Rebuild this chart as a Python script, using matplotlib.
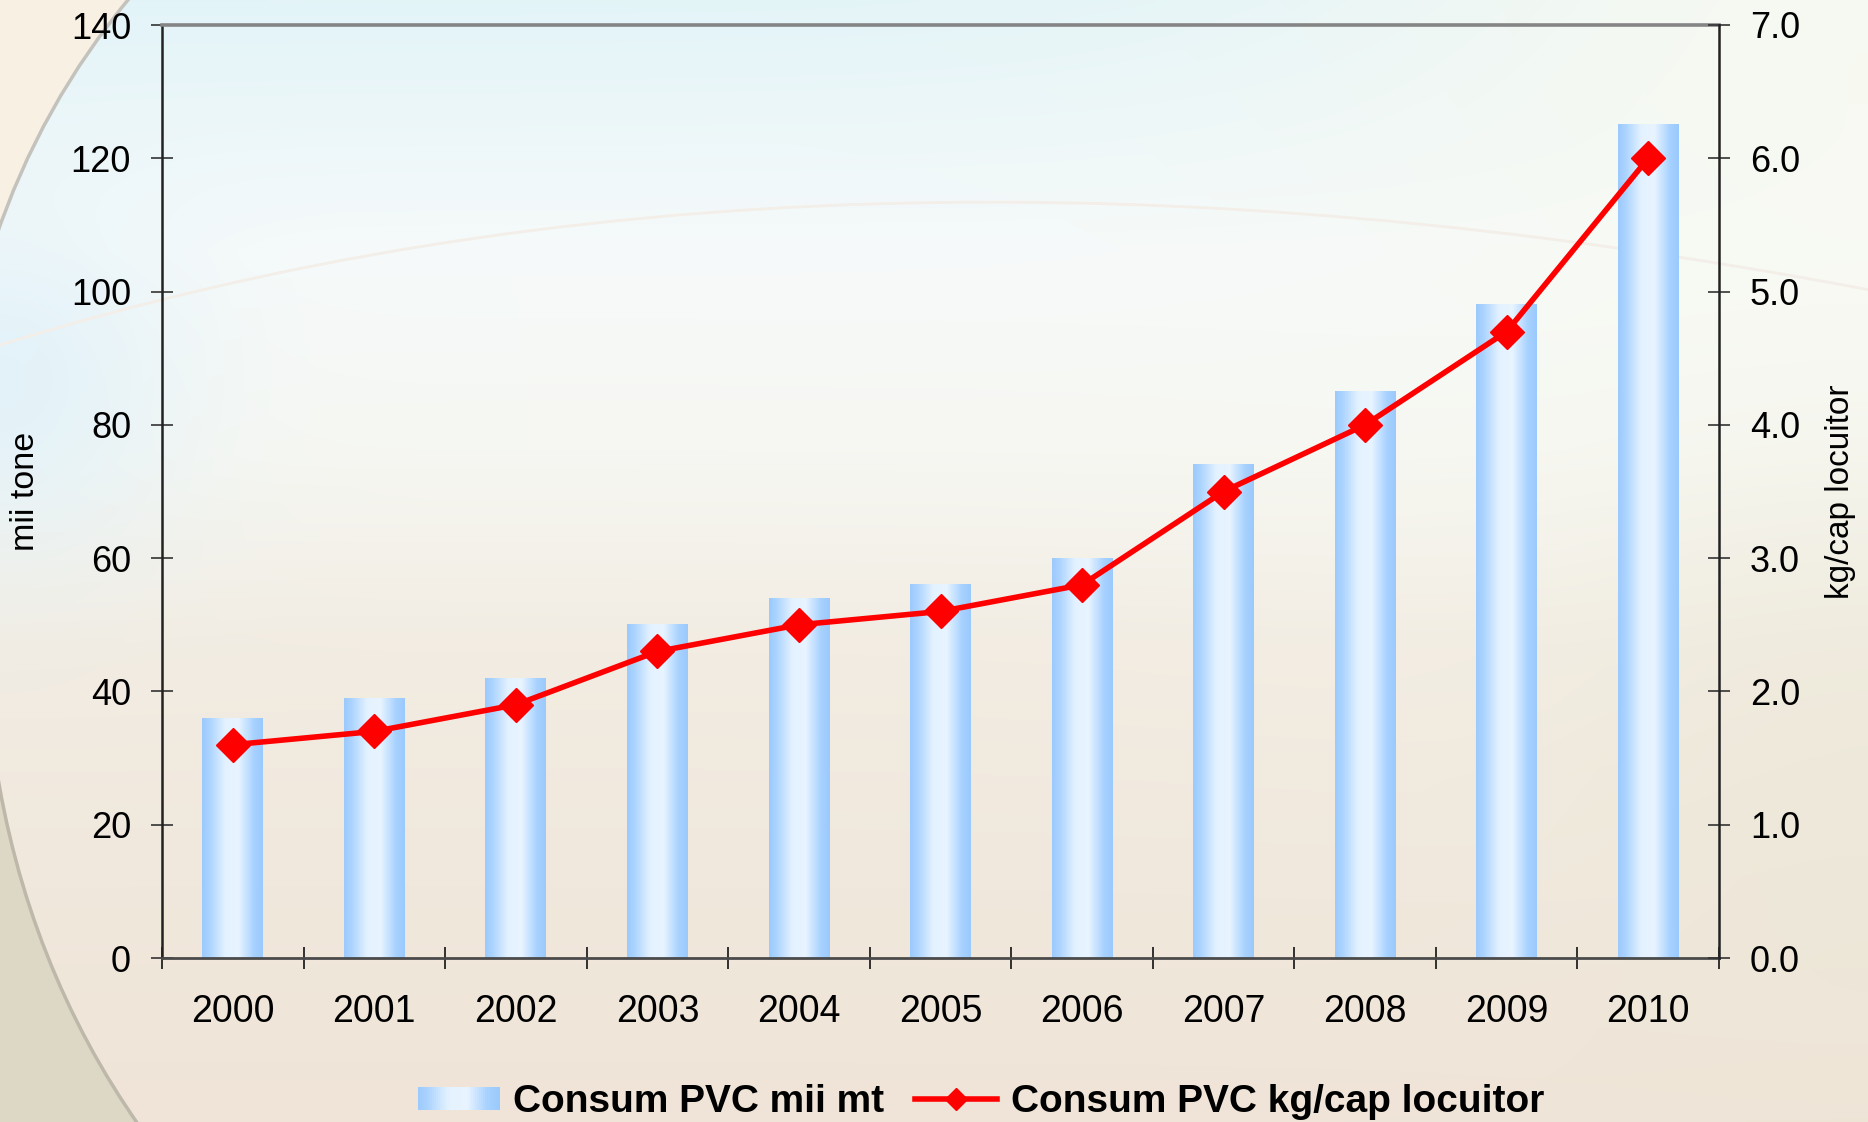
import numpy as np
import matplotlib
matplotlib.use("Agg")
import matplotlib.pyplot as plt
from matplotlib.colors import LinearSegmentedColormap, to_rgb
from matplotlib.patches import Rectangle, PathPatch, Patch
from matplotlib.path import Path
from matplotlib.lines import Line2D
from matplotlib.legend_handler import HandlerBase

plt.rcParams['font.family'] = ['Liberation Sans', 'DejaVu Sans']

# ---------------- data ----------------
years = ['2000', '2001', '2002', '2003', '2004', '2005', '2006', '2007', '2008', '2009', '2010']
consum_mii_mt = [36, 39, 42, 50, 54, 56, 60, 74, 85, 98, 125]
consum_kg_cap = [1.6, 1.7, 1.9, 2.3, 2.5, 2.6, 2.8, 3.5, 4.0, 4.7, 6.0]
left_ticks = [0, 20, 40, 60, 80, 100, 120, 140]
right_ticks = [0.0, 1.0, 2.0, 3.0, 4.0, 5.0, 6.0, 7.0]
label_bars = 'Consum PVC mii mt'
label_line = 'Consum PVC kg/cap locuitor'
ylabel_left = 'mii tone'
ylabel_right = 'kg/cap locuitor'

W, H = 1868, 1122
fig = plt.figure(figsize=(W / 100, H / 100), dpi=100)
fig.patch.set_facecolor('#f3eee3')

# ---------------- background ----------------
bg = fig.add_axes([0, 0, 1, 1], zorder=-10)
yy, xx = np.mgrid[0:H:4, 0:W:4].astype(float)
knots = [0, 250, 450, 650, 1122]
cols = np.array([to_rgb(c) for c in ['#e3f4f8', '#f6fafa', '#f6f7f2', '#f2ece2', '#efe4d7']])
img = np.zeros(yy.shape + (3,))
for k in range(3):
    img[..., k] = np.interp(yy, knots, cols[:, k])
def blend(img, w, color):
    c = np.array(to_rgb(color))
    return img * (1 - w[..., None]) + c * w[..., None]
img = blend(img, np.exp(-((xx - W) / 550) ** 2 - (yy / 500) ** 2) * 0.9, '#f9faf1')
img = blend(img, np.exp(-(xx / 180) ** 2 - ((yy - 380) / 180) ** 2) * 0.8, '#dff1fa')
img = blend(img, np.exp(-((xx - W) / 300) ** 2 - ((yy - 800) / 300) ** 2) * 0.6, '#ebe7d6')
bg.imshow(img, extent=[0, W, H, 0], aspect='auto', interpolation='bilinear')
# decorative curves
top_arc = Path([(0, -5), (132, -5), (40, 105), (-5, 240), (0, -5)],
               [Path.MOVETO, Path.LINETO, Path.CURVE3, Path.CURVE3, Path.CLOSEPOLY])
bg.add_patch(PathPatch(top_arc, facecolor='#f8f0e3', edgecolor='none'))
bg.add_patch(PathPatch(Path([(132, -5), (40, 105), (-5, 240)],
                            [Path.MOVETO, Path.CURVE3, Path.CURVE3]),
                       facecolor='none', edgecolor='#c4c2bc', lw=2.5))
bot_arc = Path([(-5, 760), (26, 965), (140, 1127), (-5, 1127), (-5, 760)],
               [Path.MOVETO, Path.CURVE3, Path.CURVE3, Path.LINETO, Path.CLOSEPOLY])
bg.add_patch(PathPatch(bot_arc, facecolor='#dcd8c5', edgecolor='none'))
bg.add_patch(PathPatch(Path([(-5, 760), (26, 965), (140, 1127)],
                            [Path.MOVETO, Path.CURVE3, Path.CURVE3]),
                       facecolor='none', edgecolor='#bdb8aa', lw=2.5))
bg.add_patch(PathPatch(Path([(0, 345), (820, 90), (1870, 290)],
                            [Path.MOVETO, Path.CURVE3, Path.CURVE3]),
                       facecolor='none', edgecolor='#f3eee8', lw=2.0))
bg.set_xlim(0, W)
bg.set_ylim(H, 0)
bg.axis('off')

# ---------------- main axes ----------------
ax = fig.add_axes([162 / W, 1 - 958 / H, (1719 - 162) / W, (958 - 25) / H])
ax.patch.set_alpha(0)
x = np.arange(len(years))

bar_cmap = LinearSegmentedColormap.from_list(
    'bar', [(0, '#9ccafd'), (0.12, '#aad3ff'), (0.38, '#e4f2ff'),
            (0.6, '#e8f4ff'), (0.85, '#a8d2ff'), (1, '#9ac9fd')])
bars = ax.bar(x, consum_mii_mt, width=0.43, color='none', edgecolor='none', zorder=2)
grad = np.linspace(0, 1, 256).reshape(1, -1)
for b in bars:
    ax.imshow(grad, cmap=bar_cmap, aspect='auto', interpolation='bilinear', zorder=2,
              extent=[b.get_x(), b.get_x() + b.get_width(), 0, b.get_height()])

ax.set_xlim(-0.5, len(years) - 0.5)
ax.set_ylim(left_ticks[0], left_ticks[-1])
ax.set_yticks(left_ticks)
ax.set_yticklabels([str(v) for v in left_ticks])
ax.set_xticks(x)
ax.set_xticklabels(years)
ax.set_xticks(np.arange(-0.5, len(years), 1), minor=True)
ax.tick_params(axis='x', which='major', length=0, pad=26, labelsize=27)
ax.tick_params(axis='x', which='minor', direction='inout', length=16, width=1.3, color='#222')
ax.tick_params(axis='y', which='major', direction='inout', length=16.5, width=1.2,
               color='#333', pad=14, labelsize=26)

ax.spines['top'].set_color('#858585')
ax.spines['top'].set_linewidth(2.6)
ax.spines['left'].set_color('#222222')
ax.spines['left'].set_linewidth(1.8)
ax.spines['bottom'].set_color('#4a4a4a')
ax.spines['bottom'].set_linewidth(2.0)
ax.spines['right'].set_visible(False)

ax.set_ylabel(ylabel_left, fontsize=24.5)
ax.yaxis.label.set_va('center')
ax.yaxis.set_label_coords((26 - 162) / (1719 - 162), 0.5)

# ---------------- secondary axis ----------------
ax2 = ax.twinx()
ax2.patch.set_alpha(0)
ax2.plot(x, consum_kg_cap, color='#ff0000', lw=4.0, marker='D', ms=17,
         markeredgecolor='#ff0000', zorder=5, solid_joinstyle='round')
ax2.set_ylim(right_ticks[0], right_ticks[-1])
ax2.set_yticks(right_ticks)
ax2.set_yticklabels([f'{v:.1f}' for v in right_ticks])
ax2.tick_params(axis='y', which='major', direction='inout', length=16.5, width=1.2,
                color='#333', pad=14, labelsize=26)
for s in ['top', 'left', 'bottom']:
    ax2.spines[s].set_visible(False)
ax2.spines['right'].set_color('#222222')
ax2.spines['right'].set_linewidth(1.8)
ax2.set_ylabel(ylabel_right, fontsize=24)
ax2.yaxis.label.set_va('center')
ax2.yaxis.set_label_coords((1840 - 162) / (1719 - 162), 0.5)

# ---------------- legend ----------------
class GradHandler(HandlerBase):
    def create_artists(self, legend, orig_handle, xdescent, ydescent, width, height, fontsize, trans):
        n = 40
        arts = []
        for i in range(n):
            r = Rectangle((-xdescent + width * i / n, -ydescent), width / n * 1.05, height,
                          facecolor=bar_cmap((i + 0.5) / n), edgecolor='none', transform=trans)
            arts.append(r)
        return arts

bar_handle = Patch(facecolor='#c6e2ff', label=label_bars)
line_handle = Line2D([], [], color='#ff0000', lw=4.0, marker='D', ms=17, label=label_line)
fig.legend(handles=[bar_handle, line_handle], labels=[label_bars, label_line],
           handler_map={Patch: GradHandler()},
           loc='center', bbox_to_anchor=(981 / W, 1 - 1102 / H), ncol=2, frameon=False,
           prop={'weight': 'bold', 'size': 28}, handlelength=2.1, handleheight=0.53,
           handletextpad=0.35, columnspacing=0.8, markerscale=0.68, borderpad=0)

fig.savefig('out.png', dpi=100, facecolor=fig.get_facecolor())
